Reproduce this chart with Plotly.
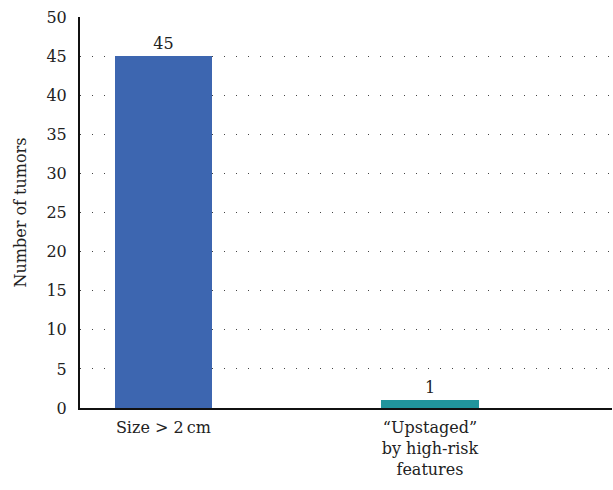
import plotly.graph_objects as go

categories = ["Size > 2\u2009cm", "\u201cUpstaged\u201d<br>by high-risk<br>features"]
values = [45, 1]
colors = ["#3d66b0", "#21959c"]
y_ticks = [0, 5, 10, 15, 20, 25, 30, 35, 40, 45, 50]
x_pos = [0, 1]

FONT = "'DejaVu Serif', serif"
FS = 16

fig = go.Figure()
fig.add_trace(go.Bar(
    x=x_pos, y=values, width=0.365,
    marker=dict(color=colors, line=dict(width=0)),
    text=[str(v) for v in values], textposition="outside",
    textfont=dict(family=FONT, size=FS, color="#222"),
    cliponaxis=False,
))

fig.update_layout(
    width=613, height=490,
    margin=dict(l=80, r=1, t=17, b=82, autoexpand=False),
    plot_bgcolor="white", paper_bgcolor="white",
    showlegend=False,
    font=dict(family=FONT, size=FS, color="#222"),
    bargap=0,
)
fig.update_xaxes(
    range=[-0.313, 1.683], automargin=False,
    tickvals=x_pos, ticktext=categories,
    showgrid=False, zeroline=False,
    showline=True, linecolor="#111", linewidth=2,
    ticks="", ticklabelstandoff=4,
    tickfont=dict(family=FONT, size=FS, color="#222"),
)
fig.update_yaxes(
    range=[0, 50], tickvals=y_ticks, automargin=False,
    showgrid=True, gridcolor="#444", gridwidth=1, griddash="1px,11px",
    zeroline=False,
    showline=True, linecolor="#111", linewidth=2,
    ticks="", ticklabelstandoff=8,
    tickfont=dict(family=FONT, size=FS, color="#222"),
    title=dict(text="Number of tumors", font=dict(family=FONT, size=FS, color="#222"), standoff=16),
)

fig.write_html(
    "out.html",
    config={"displayModeBar": False},
    post_script="document.body.style.margin='0';document.body.style.overflow='hidden';",
)
